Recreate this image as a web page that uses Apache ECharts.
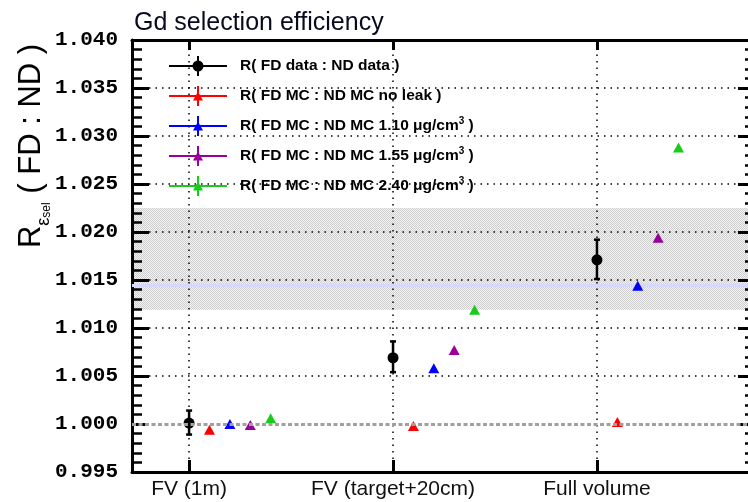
<!DOCTYPE html>
<html>
<head>
<meta charset="utf-8">
<script src="https://cdn.jsdelivr.net/npm/echarts@6/dist/echarts.min.js"></script>
<style>
  html, body { margin: 0; padding: 0; background: #fff; }
  #chart { width: 748px; height: 502px; }
</style>
</head>
<body>
<div id="chart"></div>
<script>
// Detector regions (x-axis categories)
const categories = ['FV (1m)', 'FV (target+20cm)', 'Full volume'];

// Ratio R(FD : ND) of the Gd selection efficiency
const dataRatio   = [1.0001, 1.0069, 1.0171];
const dataErrHigh = [0.0013, 0.0017, 0.0021];
const dataErrLow  = [0.0012, 0.0015, 0.0020];

const mcNoLeak = [0.9994, 0.9998, 1.0002];
const mc110    = [1.0000, 1.0058, 1.0144];
const mc155    = [0.9999, 1.0077, 1.0194];
const mc240    = [1.0006, 1.0119, 1.0288];

// Systematic band and its central line
const bandRange = [1.0119, 1.0225];
const bandMean = 1.0145;
const unityLevel = 1.000;

// y grid levels (major ticks)
const yGridLevels = [1.005, 1.010, 1.015, 1.020, 1.025, 1.030, 1.035];

const seriesNames = [
  'R( FD data : ND data )',
  'R( FD MC : ND MC no leak )',
  'R( FD MC : ND MC 1.10 μg/cm³ )',
  'R( FD MC : ND MC 1.55 μg/cm³ )',
  'R( FD MC : ND MC 2.40 μg/cm³ )'
];
const seriesColors = ['#000000', '#ff0000', '#0000ff', '#990099', '#19cc19'];
// horizontal shift of each series inside a category
const groupOffsets = [0, 0.1, 0.2, 0.3, 0.4];

// Legend icons: horizontal line + vertical error stroke + marker
const iconCircle = 'path://M0 9H58V11H0Z M28 0H30V20H28Z M23.5 10A5.5 5.5 0 1 1 34.5 10A5.5 5.5 0 1 1 23.5 10Z';
const iconTriangle = 'path://M0 9H58V11H0Z M28 0H30V20H28Z M24 14.5L29 5.5L34 14.5Z';

// fine checker fill for the systematic band
function makeHatch() {
  const c = document.createElement('canvas');
  c.width = 2; c.height = 2;
  const g = c.getContext('2d');
  g.fillStyle = '#f2f2f2'; g.fillRect(0, 0, 2, 2);
  g.fillStyle = '#cfcfcf'; g.fillRect(0, 0, 1, 1); g.fillRect(1, 1, 1, 1);
  return c;
}

function dotted() {
  return { color: '#000', width: 1.5, type: [1.5, 5] };
}

const chart = echarts.init(document.getElementById('chart'), null, { renderer: 'canvas' });

const xMin = -0.28, xMax = 2.775;

function triangleSeries(idx, values) {
  return {
    name: seriesNames[idx],
    type: 'scatter',
    symbol: 'triangle',
    symbolSize: [11, 10],
    z: 4,
    itemStyle: { color: seriesColors[idx], opacity: 1 },
    emphasis: { disabled: true },
    data: values.map((v, i) => [i + groupOffsets[idx], v])
  };
}

const option = {
  backgroundColor: '#fff',
  animation: false,
  title: {
    text: 'Gd selection efficiency',
    left: 134,
    top: 11,
    padding: 0,
    textStyle: { fontFamily: 'Liberation Sans', fontWeight: 'normal', fontSize: 25, color: '#0a0a1e' }
  },
  legend: {
    orient: 'vertical',
    left: 169,
    top: 56,
    padding: 0,
    itemWidth: 58,
    itemHeight: 20,
    itemGap: 10,
    selectedMode: false,
    textStyle: {
      fontFamily: 'Liberation Sans',
      fontWeight: 'bold',
      fontSize: 15.5,
      color: '#000',
      lineHeight: 20,
      padding: [0, 0, 0, 8],
      rich: {
        sup: { fontFamily: 'Liberation Sans', fontWeight: 'bold', fontSize: 10, lineHeight: 12, verticalAlign: 'top', color: '#000' }
      }
    },
    formatter: name => name.replace('³', '{sup|3}'),
    data: seriesNames.map((n, i) => ({
      name: n,
      icon: i === 0 ? iconCircle : iconTriangle,
      itemStyle: { color: seriesColors[i], opacity: 1 }
    }))
  },
  grid: { left: 132, top: 40, width: 623, height: 432, outerBoundsMode: 'none', containLabel: false },
  xAxis: [
    {
      type: 'value', position: 'bottom', min: xMin, max: xMax,
      axisLine: { show: true, onZero: false, lineStyle: { color: '#000', width: 3 } },
      axisTick: { show: true, inside: true, length: 12, customValues: [0, 1, 2], lineStyle: { color: '#000', width: 3 } },
      axisLabel: {
        show: true, customValues: [0, 1, 2], margin: 7,
        formatter: v => categories[Math.round(v)],
        fontFamily: 'Liberation Sans', fontSize: 21, color: '#111'
      },
      splitLine: { show: false }
    },
    {
      type: 'value', position: 'top', min: xMin, max: xMax,
      axisLine: { show: true, onZero: false, lineStyle: { color: '#000', width: 3 } },
      axisTick: { show: true, inside: true, length: 10, customValues: [0, 1, 2], lineStyle: { color: '#000', width: 3 } },
      axisLabel: { show: false },
      splitLine: { show: false }
    }
  ],
  yAxis: [
    {
      type: 'value', position: 'left', min: 0.995, max: 1.040, interval: 0.005,
      axisLine: { show: true, onZero: false, lineStyle: { color: '#000', width: 3 } },
      axisTick: { show: true, inside: true, length: 17, lineStyle: { color: '#000', width: 3 } },
      minorTick: { show: true, splitNumber: 5, length: 10, lineStyle: { color: '#000', width: 2.5 } },
      axisLabel: {
        margin: 14, showMinLabel: true, showMaxLabel: true,
        formatter: v => v.toFixed(3),
        fontFamily: 'Liberation Mono', fontWeight: 'bold', fontSize: 21, color: '#000'
      },
      splitLine: { show: false }
    },
    {
      type: 'value', position: 'right', min: 0.995, max: 1.040, interval: 0.005,
      axisLine: { show: true, onZero: false, lineStyle: { color: '#000', width: 3 } },
      axisTick: { show: true, inside: true, length: 17, lineStyle: { color: '#000', width: 3 } },
      minorTick: { show: true, splitNumber: 5, length: 10, lineStyle: { color: '#000', width: 2.5 } },
      axisLabel: { show: false },
      splitLine: { show: false }
    }
  ],
  graphic: [
    {
      type: 'text',
      x: 31,
      y: 146,
      rotation: Math.PI / 2,
      style: {
        text: '{r|R}{e|ε}{s|sel}{r| ( FD : ND )}',
        align: 'center',
        verticalAlign: 'middle',
        rich: {
          r: { fontFamily: 'Liberation Sans', fontSize: 31, lineHeight: 44, color: '#111' },
          e: { fontFamily: 'Liberation Sans', fontSize: 18, lineHeight: 24, verticalAlign: 'bottom', color: '#111' },
          s: { fontFamily: 'Liberation Sans', fontSize: 12, lineHeight: 12, verticalAlign: 'bottom', color: '#111' }
        }
      }
    }
  ],
  series: [
    // systematic band (below the grid)
    {
      type: 'line', data: [], silent: true, z: -1,
      markArea: {
        silent: true, z: -1, precision: 5,
        itemStyle: { color: { image: makeHatch(), repeat: 'repeat' } },
        data: [[{ yAxis: bandRange[0] }, { yAxis: bandRange[1] }]]
      }
    },
    // band centre line
    {
      type: 'line', data: [], silent: true, z: 1,
      markLine: {
        silent: true, z: 1, precision: 5, symbol: ['none', 'none'], label: { show: false },
        data: [
          { yAxis: bandMean, lineStyle: { color: '#d6d8ff', width: 3, type: 'solid' } }
        ]
      }
    },
    // dotted grid at the major y levels, drawn as a row of small dots
    {
      type: 'custom', silent: true, z: 2,
      encode: { x: 0, y: 1 },
      data: yGridLevels.map(v => [xMin, v]),
      renderItem: (params, api) => {
        const cs = params.coordSys;
        const yPix = api.coord([xMin, api.value(1)])[1];
        const dots = [];
        for (let x = cs.x + 4; x < cs.x + cs.width - 2; x += 6.5) {
          dots.push({
            type: 'rect',
            shape: { x: x, y: yPix - 0.75, width: 1.5, height: 1.5 },
            style: { fill: '#000' }
          });
        }
        return { type: 'group', children: dots };
      }
    },
    // dotted grid at the categories
    {
      type: 'line', data: [], silent: true, z: 2,
      markLine: {
        silent: true, z: 2, precision: 5, symbol: ['none', 'none'], label: { show: false },
        lineStyle: dotted(),
        data: categories.map((c, i) => ({ xAxis: i }))
      }
    },
    // FD data / ND data with asymmetric errors
    {
      name: seriesNames[0],
      type: 'custom',
      z: 4,
      itemStyle: { color: '#000' },
      encode: { x: 0, y: 1 },
      data: dataRatio.map((v, i) => [i + groupOffsets[0], v, dataErrHigh[i], dataErrLow[i]]),
      renderItem: (params, api) => {
        const x = api.value(0), y = api.value(1);
        const c = api.coord([x, y]);
        const top = api.coord([x, y + api.value(2)]);
        const bot = api.coord([x, y - api.value(3)]);
        const st = { stroke: '#000', lineWidth: 2.5 };
        return {
          type: 'group',
          children: [
            { type: 'line', shape: { x1: c[0], y1: top[1], x2: c[0], y2: bot[1] }, style: st },
            { type: 'line', shape: { x1: c[0] - 3, y1: top[1], x2: c[0] + 3, y2: top[1] }, style: st },
            { type: 'line', shape: { x1: c[0] - 3, y1: bot[1], x2: c[0] + 3, y2: bot[1] }, style: st },
            { type: 'circle', shape: { cx: c[0], cy: c[1], r: 5.5 }, style: { fill: '#000' } }
          ]
        };
      }
    },
    triangleSeries(1, mcNoLeak),
    triangleSeries(2, mc110),
    triangleSeries(3, mc155),
    triangleSeries(4, mc240),
    // unity reference line on top of the markers
    {
      type: 'line', data: [], silent: true, z: 10,
      markLine: {
        silent: true, z: 10, precision: 5, symbol: ['none', 'none'], label: { show: false },
        data: [{ yAxis: unityLevel, lineStyle: { color: '#a0a0a0', width: 3, type: [4, 2.5] } }]
      }
    }
  ]
};

chart.setOption(option);
</script>
</body>
</html>
